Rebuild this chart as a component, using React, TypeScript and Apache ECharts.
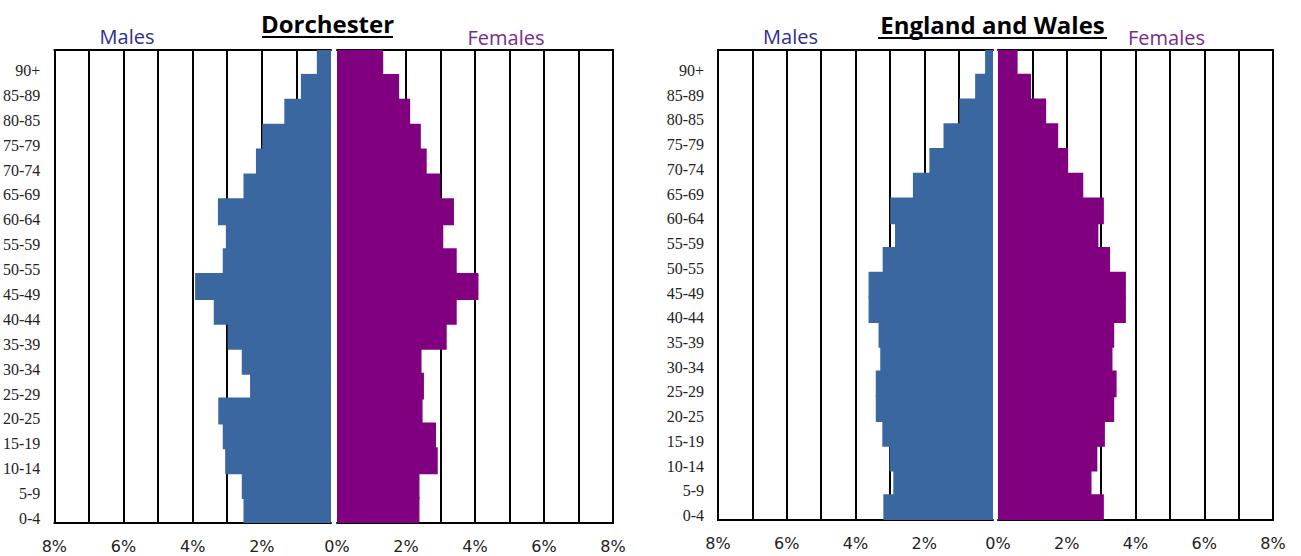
import React, { useEffect, useRef } from "react";
import * as echarts from "echarts";

const ageGroups = [
  "0-4", "5-9", "10-14", "15-19", "20-25", "25-29", "30-34", "35-39", "40-44",
  "45-49", "50-55", "55-59", "60-64", "65-69", "70-74", "75-79", "80-85", "85-89", "90+",
];

const dorchesterMales = [2.53, 2.58, 3.06, 3.13, 3.26, 2.34, 2.58, 2.99, 3.39, 3.93, 3.13, 3.04, 3.27, 2.53, 2.17, 1.99, 1.35, 0.87, 0.41];
const dorchesterFemales = [2.39, 2.39, 2.92, 2.87, 2.48, 2.52, 2.45, 3.18, 3.47, 4.1, 3.47, 3.08, 3.39, 3.0, 2.6, 2.43, 2.12, 1.8, 1.34];
const ewMales = [3.19, 2.9, 3.01, 3.22, 3.41, 3.41, 3.28, 3.33, 3.62, 3.62, 3.21, 2.85, 2.99, 2.33, 1.85, 1.44, 0.98, 0.52, 0.23];
const ewFemales = [3.08, 2.72, 2.89, 3.11, 3.38, 3.45, 3.33, 3.38, 3.72, 3.72, 3.26, 2.92, 3.08, 2.48, 2.04, 1.75, 1.4, 0.96, 0.57];

const axisMax = 8;
const axisStep = 1;
const labelEvery = 2;

const MALE_COLOR = "#3a67a0";
const FEMALE_COLOR = "#800080";
const FRAME = { color: "#000", width: 2 };

export default function App() {
  const ref = useRef<HTMLDivElement>(null);

  useEffect(() => {
    if (!ref.current) return;
    const chart = echarts.init(ref.current, null, { renderer: "svg" });

    const panels = [
      { left: 54, top: 50, width: 277, height: 473, male: true, data: dorchesterMales },
      { left: 337, top: 50, width: 276, height: 473, male: false, data: dorchesterFemales },
      { left: 718, top: 50, width: 275, height: 470, male: true, data: ewMales },
      { left: 998, top: 50, width: 275, height: 470, male: false, data: ewFemales },
    ];

    const bottomAxes = panels.map((p, i) => ({
      gridIndex: i,
      type: "value",
      position: "bottom",
      min: 0,
      max: axisMax,
      interval: axisStep,
      inverse: p.male,
      axisLine: { show: true, onZero: false, lineStyle: FRAME },
      axisTick: { show: false },
      splitLine: { show: true, showMinLine: false, showMaxLine: false, lineStyle: { color: "#000", width: 2 } },
      axisLabel: {
        formatter: (v: number) =>
          v % labelEvery === 0 && !(p.male && v === 0) ? v + "%" : "",
        fontFamily: "DejaVu Sans",
        fontSize: 16,
        color: "#222",
        margin: 15,
        showMinLabel: true,
        showMaxLabel: true,
      },
    }));

    const topAxes = panels.map((p, i) => ({
      gridIndex: i,
      type: "value",
      position: "top",
      min: 0,
      max: axisMax,
      interval: axisStep,
      inverse: p.male,
      axisLine: { show: true, onZero: false, lineStyle: FRAME },
      axisTick: { show: false },
      splitLine: { show: false },
      axisLabel: { show: false },
    }));

    const option: any = {
      animation: false,
      backgroundColor: "#fff",
      grid: panels.map((p) => ({
        left: p.left,
        top: p.top,
        width: p.width,
        height: p.height,
        show: false,
      })),
      xAxis: [...bottomAxes, ...topAxes],
      yAxis: panels.map((p, i) => ({
        gridIndex: i,
        type: "category",
        position: p.male ? "left" : "right",
        data: ageGroups,
        axisLine: { show: true, onZero: false, lineStyle: FRAME },
        axisTick: { show: false },
        splitLine: { show: false },
        axisLabel: {
          show: p.male,
          interval: 0,
          fontFamily: "Liberation Serif",
          fontSize: 16,
          color: "#222",
          margin: 14,
          verticalAlign: "top",
        },
      })),
      series: panels.map((p, i) => ({
        type: "bar",
        xAxisIndex: i,
        yAxisIndex: i,
        data: p.data,
        barWidth: "108%",
        clip: true,
        itemStyle: {
          color: p.male ? MALE_COLOR : FEMALE_COLOR,
        },
        z: 3,
      })),
      graphic: [
        {
          type: "text",
          x: 327.5,
          y: 23,
          style: {
            text: "Dorchester",
            font: "bold 24px 'Open Sans'",
            fill: "#000",
            textAlign: "center",
            textVerticalAlign: "middle",
          },
        },
        { type: "line", shape: { x1: 262, y1: 37, x2: 393, y2: 37 }, style: { stroke: "#000", lineWidth: 2 } },
        {
          type: "text",
          x: 992.5,
          y: 24,
          style: {
            text: "England and Wales",
            font: "bold 24px 'Open Sans'",
            fill: "#000",
            textAlign: "center",
            textVerticalAlign: "middle",
          },
        },
        { type: "line", shape: { x1: 878, y1: 38, x2: 1107, y2: 38 }, style: { stroke: "#000", lineWidth: 2 } },
        {
          type: "text",
          x: 127,
          y: 36,
          style: { text: "Males", font: "20px 'Open Sans'", fill: "#2e2e8f", textAlign: "center", textVerticalAlign: "middle" },
        },
        {
          type: "text",
          x: 506,
          y: 37,
          style: { text: "Females", font: "20px 'Open Sans'", fill: "#7a2a8c", textAlign: "center", textVerticalAlign: "middle" },
        },
        {
          type: "text",
          x: 790.5,
          y: 36,
          style: { text: "Males", font: "20px 'Open Sans'", fill: "#2e2e8f", textAlign: "center", textVerticalAlign: "middle" },
        },
        {
          type: "text",
          x: 1166.5,
          y: 37,
          style: { text: "Females", font: "20px 'Open Sans'", fill: "#7a2a8c", textAlign: "center", textVerticalAlign: "middle" },
        },
      ],
    };

    chart.setOption(option);
    return () => chart.dispose();
  }, []);

  return (
    <div
      ref={ref}
      style={{ position: "fixed", left: 0, top: 0, width: 1301, height: 556, background: "#fff" }}
    />
  );
}
